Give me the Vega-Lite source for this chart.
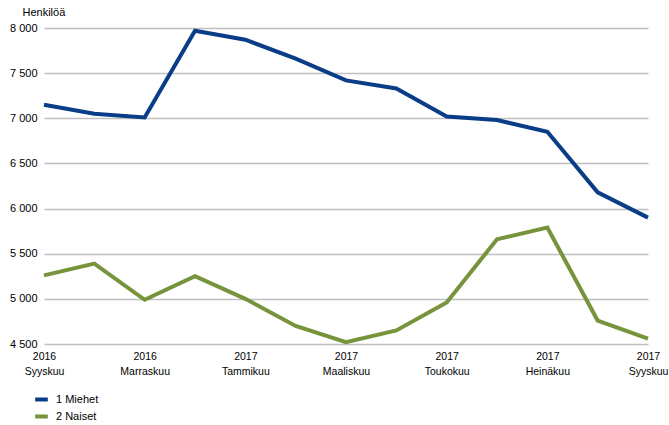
{
  "$schema": "https://vega.github.io/schema/vega-lite/v6.json",
  "width": 604,
  "height": 316,
  "autosize": {"type": "none"},
  "padding": {"left": 44, "top": 28, "right": 21, "bottom": 81},
  "background": "white",
  "config": {
    "view": {"stroke": null},
    "font": "Liberation Sans",
    "axis": {"labelFont": "Liberation Sans", "titleFont": "Liberation Sans", "labelColor": "#000000", "titleColor": "#000000"}
  },
  "data": {
    "values": [
      {"kk": "2016 Syyskuu", "i": 0, "sarja": "1 Miehet", "arvo": 7150},
      {"kk": "2016 Lokakuu", "i": 1, "sarja": "1 Miehet", "arvo": 7050},
      {"kk": "2016 Marraskuu", "i": 2, "sarja": "1 Miehet", "arvo": 7010},
      {"kk": "2016 Joulukuu", "i": 3, "sarja": "1 Miehet", "arvo": 7970},
      {"kk": "2017 Tammikuu", "i": 4, "sarja": "1 Miehet", "arvo": 7870},
      {"kk": "2017 Helmikuu", "i": 5, "sarja": "1 Miehet", "arvo": 7660},
      {"kk": "2017 Maaliskuu", "i": 6, "sarja": "1 Miehet", "arvo": 7420},
      {"kk": "2017 Huhtikuu", "i": 7, "sarja": "1 Miehet", "arvo": 7330},
      {"kk": "2017 Toukokuu", "i": 8, "sarja": "1 Miehet", "arvo": 7020},
      {"kk": "2017 Kesäkuu", "i": 9, "sarja": "1 Miehet", "arvo": 6980},
      {"kk": "2017 Heinäkuu", "i": 10, "sarja": "1 Miehet", "arvo": 6850},
      {"kk": "2017 Elokuu", "i": 11, "sarja": "1 Miehet", "arvo": 6180},
      {"kk": "2017 Syyskuu", "i": 12, "sarja": "1 Miehet", "arvo": 5900},
      {"kk": "2016 Syyskuu", "i": 0, "sarja": "2 Naiset", "arvo": 5260},
      {"kk": "2016 Lokakuu", "i": 1, "sarja": "2 Naiset", "arvo": 5390},
      {"kk": "2016 Marraskuu", "i": 2, "sarja": "2 Naiset", "arvo": 4990},
      {"kk": "2016 Joulukuu", "i": 3, "sarja": "2 Naiset", "arvo": 5250},
      {"kk": "2017 Tammikuu", "i": 4, "sarja": "2 Naiset", "arvo": 5000},
      {"kk": "2017 Helmikuu", "i": 5, "sarja": "2 Naiset", "arvo": 4700},
      {"kk": "2017 Maaliskuu", "i": 6, "sarja": "2 Naiset", "arvo": 4520},
      {"kk": "2017 Huhtikuu", "i": 7, "sarja": "2 Naiset", "arvo": 4650},
      {"kk": "2017 Toukokuu", "i": 8, "sarja": "2 Naiset", "arvo": 4960},
      {"kk": "2017 Kesäkuu", "i": 9, "sarja": "2 Naiset", "arvo": 5660},
      {"kk": "2017 Heinäkuu", "i": 10, "sarja": "2 Naiset", "arvo": 5790},
      {"kk": "2017 Elokuu", "i": 11, "sarja": "2 Naiset", "arvo": 4760},
      {"kk": "2017 Syyskuu", "i": 12, "sarja": "2 Naiset", "arvo": 4560}
    ]
  },
  "mark": {"type": "line", "strokeWidth": 4, "strokeJoin": "miter", "clip": false},
  "encoding": {
    "x": {
      "field": "kk",
      "type": "ordinal",
      "sort": {"field": "i"},
      "scale": {"type": "point", "padding": 0},
      "axis": {
        "title": null,
        "values": ["2016 Syyskuu", "2016 Marraskuu", "2017 Tammikuu", "2017 Maaliskuu", "2017 Toukokuu", "2017 Heinäkuu", "2017 Syyskuu"],
        "labelExpr": "split(datum.value, ' ')",
        "labelAngle": 0,
        "labelFontSize": 10.5,
        "labelLineHeight": 15,
        "labelPadding": 7,
        "ticks": false,
        "domain": false,
        "grid": false
      }
    },
    "y": {
      "field": "arvo",
      "type": "quantitative",
      "scale": {"domain": [4500, 8000], "nice": false, "zero": false},
      "axis": {
        "values": [4500, 5000, 5500, 6000, 6500, 7000, 7500, 8000],
        "labelExpr": "replace(format(datum.value, ','), ',', ' ')",
        "labelFontSize": 11,
        "labelPadding": 7,
        "ticks": false,
        "domain": false,
        "grid": true,
        "gridColor": "#c0c0c0",
        "gridWidth": 1.5,
        "title": "Henkilöä",
        "titleAngle": 0,
        "titleFontSize": 11,
        "titleFontWeight": "normal",
        "titleAlign": "left",
        "titleBaseline": "middle",
        "titleX": -22,
        "titleY": -16
      }
    },
    "color": {
      "field": "sarja",
      "type": "nominal",
      "scale": {"domain": ["1 Miehet", "2 Naiset"], "range": ["#0a3d87", "#77933c"]},
      "legend": {
        "title": null,
        "orient": "none",
        "legendX": -11,
        "legendY": 363,
        "symbolType": "stroke",
        "symbolStrokeWidth": 4,
        "symbolSize": 160,
        "labelFontSize": 11,
        "labelOffset": 6,
        "rowPadding": 0
      }
    }
  }
}
